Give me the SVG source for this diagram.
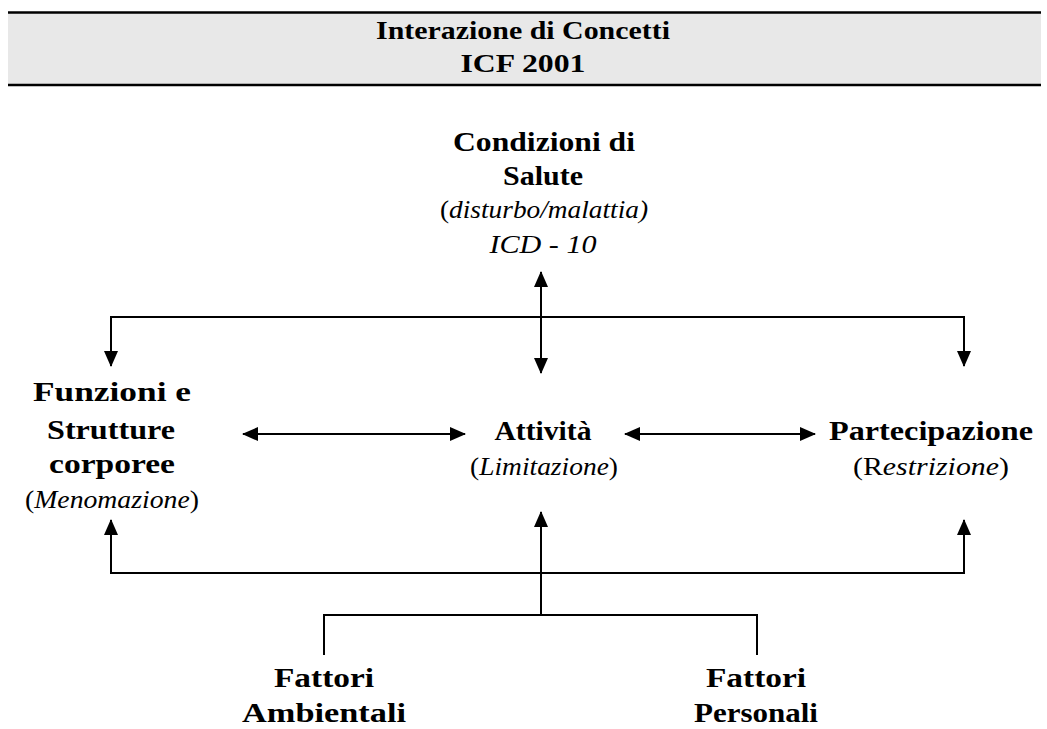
<svg xmlns="http://www.w3.org/2000/svg" width="1047" height="729" viewBox="0 0 1047 729">
  <style>
    .title { font-family: "Liberation Serif", serif; font-weight: bold; font-size: 26px; fill: #000; text-anchor: middle; }
    .lbl { font-family: "Liberation Serif", serif; font-weight: bold; font-size: 28px; fill: #000; text-anchor: middle; }
    .sub { font-family: "Liberation Serif", serif; font-style: italic; font-size: 26px; fill: #000; text-anchor: middle; }
    .up { font-style: normal; }
    .wire { fill: none; stroke: #000; stroke-width: 2; }
  </style>
  <defs>
    <marker id="arr" viewBox="0 0 16 14" refX="15" refY="7" markerWidth="16" markerHeight="14" markerUnits="userSpaceOnUse" orient="auto-start-reverse">
      <path d="M0,0 L16,7 L0,14 Z" fill="#000"/>
    </marker>
  </defs>

  <!-- header band -->
  <g id="header">
    <rect x="8" y="12" width="1033" height="74" fill="#e8e8e8"/>
    <line x1="8" y1="12.5" x2="1041" y2="12.5" stroke="#000" stroke-width="2.5"/>
    <line x1="8" y1="85" x2="1041" y2="85" stroke="#000" stroke-width="2.5"/>
    <text class="title" x="523" y="39" textLength="294" lengthAdjust="spacingAndGlyphs">Interazione di Concetti</text>
    <text class="title" x="523" y="72" textLength="125" lengthAdjust="spacingAndGlyphs">ICF 2001</text>
  </g>

  <g id="connectors">
    <!-- health condition link -->
    <line class="wire" x1="541" y1="317" x2="541" y2="272" marker-end="url(#arr)"/>
    <line class="wire" x1="541" y1="317" x2="541" y2="373" marker-end="url(#arr)"/>
    <polyline class="wire" points="111,366 111,317 964,317 964,366" marker-start="url(#arr)" marker-end="url(#arr)"/>
    <!-- middle row -->
    <line class="wire" x1="243" y1="434" x2="465" y2="434" marker-start="url(#arr)" marker-end="url(#arr)"/>
    <line class="wire" x1="625" y1="434" x2="815" y2="434" marker-start="url(#arr)" marker-end="url(#arr)"/>
    <!-- contextual factors -->
    <polyline class="wire" points="111,520 111,573 964,573 964,520" marker-start="url(#arr)" marker-end="url(#arr)"/>
    <line class="wire" x1="541" y1="615" x2="541" y2="512" marker-end="url(#arr)"/>
    <polyline class="wire" points="324,655 324,615 757,615 757,655"/>
  </g>

  <g id="condizioni">
    <text class="lbl" x="544" y="151" textLength="182" lengthAdjust="spacingAndGlyphs">Condizioni di</text>
    <text class="lbl" x="543" y="185" textLength="80" lengthAdjust="spacingAndGlyphs">Salute</text>
    <text class="sub" x="544" y="218" textLength="208" lengthAdjust="spacingAndGlyphs"><tspan class="up">(</tspan>disturbo/malattia)</text>
    <text class="sub" x="543" y="253" textLength="107" lengthAdjust="spacingAndGlyphs">ICD - 10</text>
  </g>

  <g id="funzioni">
    <text class="lbl" x="112" y="401" textLength="158" lengthAdjust="spacingAndGlyphs">Funzioni e</text>
    <text class="lbl" x="111" y="439" textLength="128" lengthAdjust="spacingAndGlyphs">Strutture</text>
    <text class="lbl" x="112" y="473" textLength="126" lengthAdjust="spacingAndGlyphs">corporee</text>
    <text class="sub" x="112" y="508" textLength="174" lengthAdjust="spacingAndGlyphs"><tspan class="up">(</tspan>Menomazione<tspan class="up">)</tspan></text>
  </g>

  <g id="attivita">
    <text class="lbl" x="543" y="440" textLength="97" lengthAdjust="spacingAndGlyphs">Attività</text>
    <text class="sub" x="544" y="475" textLength="148" lengthAdjust="spacingAndGlyphs"><tspan class="up">(</tspan>Limitazione<tspan class="up">)</tspan></text>
  </g>

  <g id="partecipazione">
    <text class="lbl" x="931" y="440" textLength="204" lengthAdjust="spacingAndGlyphs">Partecipazione</text>
    <text class="sub" x="931" y="475" textLength="156" lengthAdjust="spacingAndGlyphs"><tspan class="up">(R</tspan>estrizione<tspan class="up">)</tspan></text>
  </g>

  <g id="ambientali">
    <text class="lbl" x="324" y="687" textLength="100" lengthAdjust="spacingAndGlyphs">Fattori</text>
    <text class="lbl" x="324" y="722" textLength="164" lengthAdjust="spacingAndGlyphs">Ambientali</text>
  </g>

  <g id="personali">
    <text class="lbl" x="756" y="687" textLength="100" lengthAdjust="spacingAndGlyphs">Fattori</text>
    <text class="lbl" x="756" y="722" textLength="124" lengthAdjust="spacingAndGlyphs">Personali</text>
  </g>
</svg>
